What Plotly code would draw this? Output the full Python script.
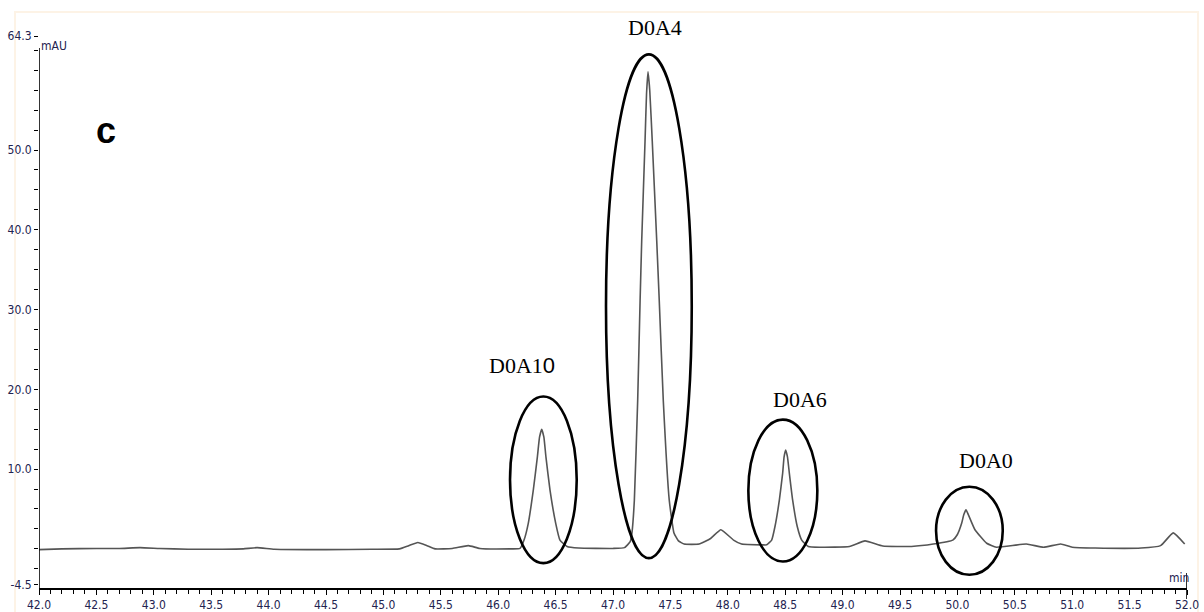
import plotly.graph_objects as go

# Retention time (min) and detector response (mAU) of the chromatogram trace
retention_min = [
    42.00, 42.20, 42.50, 42.70, 42.88, 43.05, 43.30, 43.60, 43.78, 43.90,
    44.05, 44.50, 44.90, 45.14, 45.22, 45.30, 45.38, 45.45, 45.60, 45.74,
    45.84, 46.10, 46.19, 46.225, 46.262, 46.306, 46.341, 46.360, 46.379, 46.398,
    46.416, 46.451, 46.501, 46.538, 46.60, 46.70, 47.00, 47.10, 47.15, 47.165,
    47.186, 47.215, 47.236, 47.250, 47.279, 47.292, 47.305, 47.320, 47.342, 47.381,
    47.403, 47.438, 47.490, 47.531, 47.57, 47.62, 47.75, 47.85, 47.94, 48.05,
    48.12, 48.30, 48.339, 48.382, 48.411, 48.449, 48.478, 48.490, 48.504, 48.520,
    48.536, 48.565, 48.605, 48.644, 48.701, 48.80, 49.06, 49.195, 49.35, 49.60,
    49.79, 49.96, 50.00, 50.037, 50.056, 50.075, 50.095, 50.153, 50.255, 50.34,
    50.60, 50.75, 50.90, 51.00, 51.20, 51.60, 51.77, 51.88, 51.98,
]
absorbance_mau = [
    -0.1, 0.0, 0.05, 0.05, 0.15, 0.05, -0.05, -0.05, 0.0, 0.15,
    -0.05, -0.1, -0.05, 0.0, 0.4, 0.8, 0.4, 0.0, 0.05, 0.4,
    0.05, 0.0, 0.05, 1.1, 3.2, 7.4, 11.5, 14.0, 15.0, 14.0,
    11.5, 7.4, 3.2, 1.1, 0.3, 0.1, 0.05, 0.15, 0.9, 2.0,
    6.1, 18.6, 31.1, 38.6, 51.1, 57.0, 59.8, 57.5, 51.1, 38.6,
    31.1, 18.6, 6.1, 2.0, 1.0, 0.6, 0.6, 1.3, 2.4, 1.1,
    0.6, 0.5, 0.5, 1.1, 2.8, 6.1, 9.5, 11.5, 12.4, 11.5,
    9.5, 6.1, 2.8, 1.1, 0.3, 0.2, 0.3, 1.0, 0.35, 0.3,
    0.6, 1.1, 1.8, 3.2, 4.3, 4.9, 4.3, 2.4, 0.7, 0.2,
    0.6, 0.2, 0.6, 0.2, 0.1, 0.1, 0.4, 2.0, 0.6,
]

# Peak labels and their positions (paper units of the plot area)
peak_names = ["D0A1<span style='font-family:Liberation Sans, Arial'>0</span>", "D0A4", "D0A6", "D0A0"]
label_px = [0.4207, 0.5366, 0.6629, 0.8249]
label_py = [0.4022, 1.0163, 0.3406, 0.2301]

# Ellipses drawn around each peak: (x0, x1, y0, y1) in data units
ellipses = [
    (46.103, 46.684, -1.79, 19.1),
    (46.939, 47.686, -1.16, 62.0),
    (48.179, 48.780, -1.59, 16.2),
    (49.814, 50.395, -3.25, 7.79),
]

x_ticks = [42.0 + 0.5 * i for i in range(21)]
y_ticks = [-4.5, 10.0, 20.0, 30.0, 40.0, 50.0, 64.3]

Y_MIN, Y_MAX = -4.91, 64.3
AX_FAMILY = "Liberation Sans Narrow, Arial Narrow, DejaVu Sans Condensed, Liberation Sans, Arial"
AX_FONT = dict(family=AX_FAMILY, size=12, color="#23234f")

fig = go.Figure()
fig.add_trace(go.Scatter(
    x=retention_min, y=absorbance_mau, mode="lines",
    line=dict(color="#555555", width=1.6, shape="spline", smoothing=0.4),
    hoverinfo="x+y", showlegend=False,
))

shapes = []
for (x0, x1, y0, y1) in ellipses:
    shapes.append(dict(type="circle", xref="x", yref="y", x0=x0, x1=x1, y0=y0, y1=y1,
                       line=dict(color="black", width=2.6)))
# left axis line (stops below the unit label)
shapes.append(dict(type="line", xref="x", yref="y", x0=42.0, x1=42.0, y0=Y_MIN, y1=62.8,
                   line=dict(color="black", width=1.6)))
# end marker at 52.0 min
shapes.append(dict(type="line", xref="x", yref="paper", x0=52.0, x1=52.0, y0=-0.02, y1=0.027,
                   line=dict(color="black", width=1.6)))
# faint page frame
shapes.append(dict(type="rect", xref="paper", yref="paper", x0=-0.0209, x1=1.0096, y0=-0.2, y1=1.0435,
                   line=dict(color="#fdf3e6", width=2), layer="below"))

annotations = []
for name, px, py in zip(peak_names, label_px, label_py):
    annotations.append(dict(x=px, y=py, xref="paper", yref="paper", text=name, showarrow=False,
                            xanchor="center", yanchor="middle",
                            font=dict(family="Liberation Serif, Times New Roman, serif",
                                      size=22, color="black")))
annotations.append(dict(x=0.0584, y=0.8279, xref="paper", yref="paper", text="<b>c</b>",
                        showarrow=False, xanchor="center", yanchor="middle",
                        font=dict(family="Liberation Sans, Arial", size=36, color="black")))
annotations.append(dict(x=0.0, y=1.0, xref="paper", yref="paper", text="mAU", showarrow=False,
                        xanchor="left", yanchor="top", yshift=-1, xshift=0,
                        font=dict(family=AX_FAMILY, size=12, color="#23234f")))
annotations.append(dict(x=52.0, y=0.0, xref="x", yref="paper", text="min", showarrow=False,
                        xanchor="right", yanchor="bottom", xshift=4, yshift=1,
                        font=dict(family=AX_FAMILY, size=12, color="#23234f")))

fig.update_layout(
    width=1204, height=612,
    margin=dict(l=39, r=17, t=36, b=24, autoexpand=False),
    paper_bgcolor="white", plot_bgcolor="white",
    shapes=shapes, annotations=annotations,
    xaxis=dict(
        range=[42.0, 52.0], showgrid=False, zeroline=False,
        showline=True, linecolor="black", linewidth=1.6,
        tickmode="array", tickvals=x_ticks, ticktext=[f"{v:.1f}" for v in x_ticks],
        ticks="outside", ticklen=5, tickwidth=1.3, tickcolor="black",
        tickfont=AX_FONT, automargin=False, ticklabelstandoff=0,
        minor=dict(tickmode="linear", tick0=42.0, dtick=0.1, ticks="outside",
                   ticklen=4, tickwidth=1.2, tickcolor="black"),
    ),
    yaxis=dict(
        range=[Y_MIN, Y_MAX], showgrid=False, zeroline=False, showline=False,
        tickmode="array", tickvals=y_ticks, ticktext=[f"{v:.1f}" for v in y_ticks],
        ticks="outside", ticklen=4, tickwidth=1.3, tickcolor="black",
        tickfont=AX_FONT, automargin=False, ticklabelstandoff=0,
        minor=dict(tickmode="linear", tick0=0, dtick=2.5, ticks="outside",
                   ticklen=4, tickwidth=1.2, tickcolor="black"),
    ),
)

fig.write_html("out.html")
